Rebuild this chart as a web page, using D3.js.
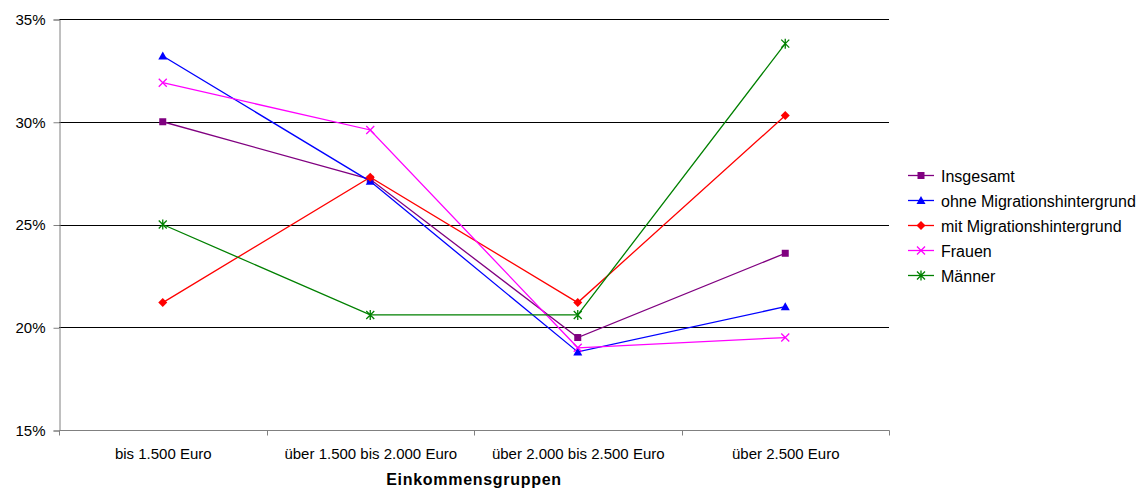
<!DOCTYPE html>
<html>
<head>
<meta charset="utf-8">
<script src="https://cdn.jsdelivr.net/npm/d3@7"></script>
<style>
  html, body { margin: 0; padding: 0; background: #fff; }
  svg { display: block; font-family: "Liberation Sans", Arial, sans-serif; }
</style>
</head>
<body>
<svg id="chart" width="1142" height="489"></svg>
<script>
// Einkommensgruppen (x categories)
const categories = ["bis 1.500 Euro", "über 1.500 bis 2.000 Euro", "über 2.000 bis 2.500 Euro", "über 2.500 Euro"];

// Anteile je Gruppe in Prozent
const insgesamt = [30.0, 27.2, 19.5, 23.6];
const ohneMigration = [33.2, 27.1, 18.8, 21.0];
const mitMigration = [21.2, 27.3, 21.2, 30.3];
const frauen = [31.9, 29.6, 19.0, 19.5];
const maenner = [25.0, 20.6, 20.6, 33.8];

const seriesNames = ["Insgesamt", "ohne Migrationshintergrund", "mit Migrationshintergrund", "Frauen", "Männer"];
const seriesColors = ["#800080", "#0000ff", "#ff0000", "#ff00ff", "#008000"];
const seriesMarkers = ["square", "triangle", "diamond", "cross", "star"];
const seriesValues = [insgesamt, ohneMigration, mitMigration, frauen, maenner];

const yTicks = [15, 20, 25, 30, 35];
const xTitle = "Einkommensgruppen";

const svg = d3.select("#chart");
const plot = { left: 59, right: 889, top: 19, bottom: 430 };

const x = d3.scaleBand().domain(categories).range([plot.left, plot.right]).padding(0);
const y = d3.scaleLinear().domain([15, 35]).range([plot.bottom, plot.top]);
const cx = c => x(c) + x.bandwidth() / 2;

// horizontal gridlines
svg.append("g")
  .selectAll("line")
  .data(yTicks.filter(t => t > 15))
  .join("line")
  .attr("x1", plot.left).attr("x2", plot.right)
  .attr("y1", d => Math.round(y(d)) + 0.5).attr("y2", d => Math.round(y(d)) + 0.5)
  .attr("stroke", "#000").attr("stroke-width", 1);

// y axis
const yAxis = svg.append("g")
  .attr("transform", `translate(${plot.left + 0.5},0.5)`)
  .call(d3.axisLeft(y).tickValues(yTicks).tickFormat(d => d + "%").tickSize(6).tickPadding(8));
yAxis.select(".domain").attr("stroke", "#808080");
yAxis.selectAll(".tick line").attr("stroke", "#808080");
yAxis.selectAll("text").attr("font-size", 15).attr("fill", "#000")
  .attr("font-family", "Liberation Sans, Arial, sans-serif");

// x axis with ticks between categories
const xAxis = svg.append("g")
  .attr("transform", `translate(0.5,${plot.bottom + 0.5})`);
xAxis.append("line")
  .attr("x1", plot.left).attr("x2", plot.right)
  .attr("stroke", "#808080");
const boundaries = categories.map(c => x(c)).concat([plot.right]);
xAxis.selectAll("line.tick")
  .data(boundaries)
  .join("line")
  .attr("class", "tick")
  .attr("x1", d => Math.round(d)).attr("x2", d => Math.round(d))
  .attr("y1", 0).attr("y2", 5)
  .attr("stroke", "#808080");
xAxis.selectAll("text")
  .data(categories)
  .join("text")
  .attr("x", d => cx(d))
  .attr("y", 28)
  .attr("text-anchor", "middle")
  .attr("font-size", 15)
  .attr("fill", "#000")
  .text(d => d);

svg.append("text")
  .attr("x", (plot.left + plot.right) / 2)
  .attr("y", 485)
  .attr("text-anchor", "middle")
  .attr("font-size", 16)
  .attr("letter-spacing", 0.7)
  .attr("font-weight", "bold")
  .attr("fill", "#000")
  .text(xTitle);

// marker drawing
function drawMarker(g, type, color, px, py) {
  if (type === "square") {
    g.append("rect").attr("x", px - 3.5).attr("y", py - 3.5).attr("width", 7).attr("height", 7).attr("fill", color);
  } else if (type === "triangle") {
    g.append("path").attr("d", `M${px},${py - 4.5}L${px + 4.5},${py + 3.5}L${px - 4.5},${py + 3.5}Z`).attr("fill", color);
  } else if (type === "diamond") {
    g.append("path").attr("d", `M${px},${py - 4.5}L${px + 4.5},${py}L${px},${py + 4.5}L${px - 4.5},${py}Z`).attr("fill", color);
  } else if (type === "cross") {
    g.append("path").attr("d", `M${px - 4},${py - 4}L${px + 4},${py + 4}M${px - 4},${py + 4}L${px + 4},${py - 4}`)
      .attr("stroke", color).attr("stroke-width", 1.3).attr("fill", "none");
  } else if (type === "star") {
    g.append("path").attr("d", `M${px - 4},${py - 4}L${px + 4},${py + 4}M${px - 4},${py + 4}L${px + 4},${py - 4}M${px},${py - 5}L${px},${py + 5}`)
      .attr("stroke", color).attr("stroke-width", 1.3).attr("fill", "none");
  }
}

const line = d3.line().x((d, i) => cx(categories[i])).y(d => y(d));

seriesValues.forEach((vals, si) => {
  const g = svg.append("g");
  g.append("path")
    .attr("d", line(vals))
    .attr("fill", "none")
    .attr("stroke", seriesColors[si])
    .attr("stroke-width", 1.3);
  vals.forEach((v, i) => drawMarker(g, seriesMarkers[si], seriesColors[si], cx(categories[i]), y(v)));
});

// legend
const legend = svg.append("g");
seriesNames.forEach((name, i) => {
  const ly = 175.5 + i * 25;
  const row = legend.append("g");
  row.append("line").attr("x1", 908).attr("x2", 934).attr("y1", ly).attr("y2", ly)
    .attr("stroke", seriesColors[i]).attr("stroke-width", 1.3);
  drawMarker(row, seriesMarkers[i], seriesColors[i], 921, ly);
  row.append("text").attr("x", 941).attr("y", ly + 6)
    .attr("font-size", 16).attr("fill", "#000").text(name);
});
</script>
</body>
</html>
